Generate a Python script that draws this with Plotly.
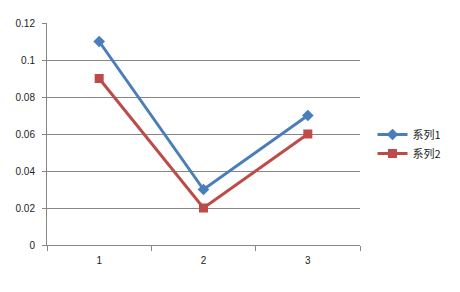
import plotly.graph_objects as go

categories = ["1", "2", "3"]
series1 = [0.11, 0.03, 0.07]
series2 = [0.09, 0.02, 0.06]
names = ["系列1", "系列2"]
y_ticks = [0, 0.02, 0.04, 0.06, 0.08, 0.1, 0.12]
y_ticktext = ["0", "0.02", "0.04", "0.06", "0.08", "0.1", "0.12"]

fig = go.Figure()
fig.add_trace(go.Scatter(x=categories, y=series1, name=names[0], mode="lines+markers",
                         line=dict(color="#4A7EBB", width=3),
                         marker=dict(symbol="diamond", size=9, color="#4A7EBB")))
fig.add_trace(go.Scatter(x=categories, y=series2, name=names[1], mode="lines+markers",
                         line=dict(color="#BE4B48", width=3),
                         marker=dict(symbol="square", size=9, color="#BE4B48")))

fig.update_layout(
    width=460, height=292,
    margin=dict(l=47, r=100, t=23, b=47, autoexpand=False),
    paper_bgcolor="white", plot_bgcolor="white",
    font=dict(family="Liberation Sans, Noto Sans CJK SC", size=10, color="#222222"),
    legend=dict(x=1.04, y=0.455, xanchor="left", yanchor="middle",
                font=dict(family="Noto Sans CJK SC", size=11, color="#222222"),
                bgcolor="rgba(0,0,0,0)", tracegroupgap=6, itemwidth=30),
)
fig.update_xaxes(type="category", tickson="boundaries", ticks="outside", ticklen=5,
                 tickcolor="#868686", showline=True, linecolor="#868686", linewidth=1,
                 showgrid=False, zeroline=False, range=[-0.5, 2.5], ticklabelstandoff=6)
fig.update_yaxes(range=[0, 0.12], tickvals=y_ticks, ticktext=y_ticktext,
                 ticks="outside", ticklen=4, tickcolor="#868686",
                 showline=True, linecolor="#868686", linewidth=1,
                 showgrid=True, gridcolor="#868686", gridwidth=1, zeroline=False,
                 ticklabelstandoff=5)

fig.write_html("out.html")
